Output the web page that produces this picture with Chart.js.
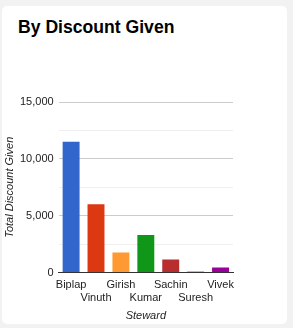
<!DOCTYPE html>
<html>
<head>
<meta charset="utf-8">
<script src="https://cdn.jsdelivr.net/npm/chart.js@4/dist/chart.umd.min.js"></script>
<style>
  html, body { margin: 0; padding: 0; background: #f2f2f2; width: 293px; height: 328px; overflow: hidden; }
  .card { position: absolute; left: 2px; top: 6px; width: 285px; height: 318px; background: #fff; border-radius: 5px; }
  .card h2 { position: absolute; left: 16px; top: 11px; margin: 0; font: bold 17.6px "Liberation Sans", Arial, sans-serif; color: #000; }
  .wrap { position: absolute; left: -1px; top: 80px; width: 253px; height: 238px; }
</style>
</head>
<body>
<div class="card">
  <h2>By Discount Given</h2>
  <div class="wrap"><canvas id="discountChart"></canvas></div>
</div>
<script>
const stewards = ["Biplap", "Vinuth", "Girish", "Kumar", "Sachin", "Suresh", "Vivek"];
const discountValues = [11500, 6000, 1750, 3300, 1150, 100, 450];
const barColors = ["#3366cc", "#dc3912", "#ff9933", "#109618", "#b82e2e", "#66bbdd", "#990099"];
const yTicks = [0, 5000, 10000, 15000];

// stagger labels over two rows like the original
const staggered = stewards.map((s, i) => i % 2 === 0 ? [s, ""] : ["", s]);

const font = { family: "'Liberation Sans', Arial, sans-serif", size: 11 };

new Chart(document.getElementById("discountChart"), {
  type: "bar",
  data: {
    labels: staggered,
    datasets: [{
      label: "Total Discount Given",
      data: discountValues,
      backgroundColor: barColors,
      borderWidth: 0,
      categoryPercentage: 1,
      barPercentage: 0.68
    }]
  },
  options: {
    responsive: true,
    maintainAspectRatio: false,
    animation: false,
    layout: { padding: { top: 16, left: 0, right: 21, bottom: 0 } },
    plugins: { legend: { display: false }, tooltip: { enabled: false } },
    scales: {
      x: {
        grid: { display: false, drawTicks: false },
        border: { color: "#333", width: 1 },
        ticks: { color: "#222", font: { ...font, lineHeight: 1.15 }, padding: 6, maxRotation: 0, autoSkip: false },
        title: { display: true, text: "Steward", color: "#222", font: { ...font, style: "italic" }, padding: { top: 0, bottom: 1 } }
      },
      y: {
        min: 0,
        max: 15000,
        afterBuildTicks: axis => {
          const t = [];
          for (let v = 0; v <= 15000; v += 2500) t.push({ value: v });
          axis.ticks = t;
        },
        grid: {
          drawTicks: false,
          color: ctx => yTicks.includes(ctx.tick.value) ? "#cccccc" : "#efefef",
          lineWidth: 1
        },
        border: { display: false },
        ticks: {
          color: "#222",
          font,
          padding: 5,
          callback: v => yTicks.includes(v) ? v.toLocaleString("en-US") : ""
        },
        title: { display: true, text: "Total Discount Given", color: "#222", font: { ...font, style: "italic", lineHeight: 1 }, padding: { top: 3, bottom: 0 } }
      }
    }
  }
});
</script>
</body>
</html>
